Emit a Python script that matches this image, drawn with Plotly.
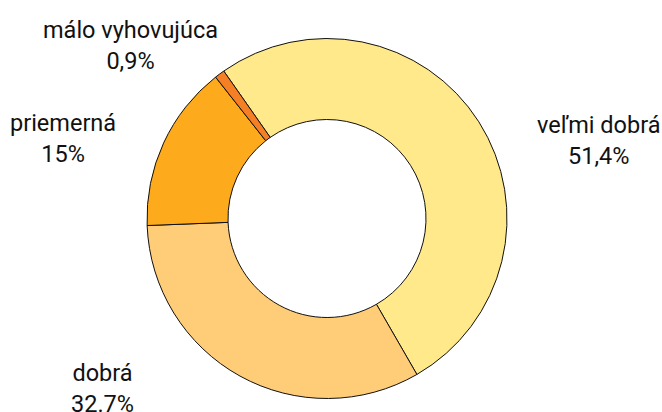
import plotly.graph_objects as go

W, H = 662, 412

categories = ["veľmi dobrá", "dobrá", "priemerná", "málo vyhovujúca"]
values = [51.4, 32.7, 15.0, 0.9]
value_labels = ["51,4%", "32.7%", "15%", "0,9%"]
colors = ["#FFE98B", "#FFCC77", "#FDAA1C", "#F47F24"]

# label block centres in pixels (x, y from top)
label_pos = [(598, 140), (102, 388), (63, 138), (130, 46)]

cx, cy, r = 327, 218.5, 180

fig = go.Figure(go.Pie(
    labels=categories,
    values=values,
    sort=False,
    direction="clockwise",
    rotation=-35,
    hole=0.55,
    marker=dict(colors=colors, line=dict(color="#111111", width=1)),
    textinfo="none",
    hoverinfo="label+percent",
    showlegend=False,
    domain=dict(x=[(cx - r) / W, (cx + r) / W], y=[(H - cy - r) / H, (H - cy + r) / H]),
))

for cat, vl, (px, py) in zip(categories, value_labels, label_pos):
    fig.add_annotation(
        x=px / W, y=1 - py / H, xref="paper", yref="paper",
        text=f"{cat}<br>{vl}", showarrow=False, align="center",
        xanchor="center", yanchor="middle",
        font=dict(family="Roboto", size=23.5, color="#111111"),
    )

fig.update_layout(
    width=W, height=H,
    margin=dict(l=0, r=0, t=0, b=0),
    paper_bgcolor="white", plot_bgcolor="white",
)

fig.write_html(
    "out.html",
    config={"displayModeBar": False},
    post_script="document.body.style.margin='0';document.body.style.overflow='hidden';",
)
